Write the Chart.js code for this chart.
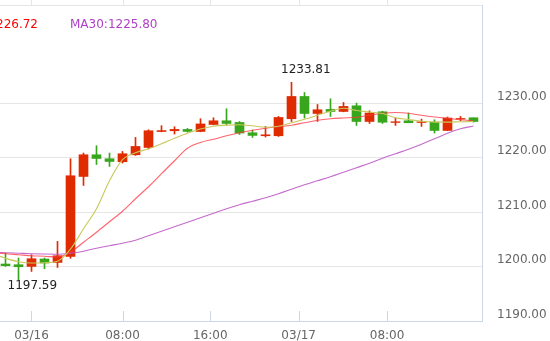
<!DOCTYPE html>
<html><head><meta charset="utf-8">
<script src="https://cdn.jsdelivr.net/npm/chart.js@4/dist/chart.umd.min.js"></script>
<style>html,body{margin:0;padding:0;background:#fff;overflow:hidden}canvas{display:block}</style>
</head><body>
<canvas id="c" width="550" height="341"></canvas>
<script>
// Candle data (one candle per index 0..36)
const openP  = [1200.46,1200.33,1200.02,1201.38,1200.75,1201.85,1216.53,1220.51,1219.78,1219.23,
                1220.51,1221.85,1224.78,1224.92,1225.16,1224.79,1226.07,1226.75,1226.44,1224.55,
                1224.00,1224.00,1227.12,1231.21,1228.09,1228.83,1228.46,1229.50,1226.62,1228.40,
                1226.44,1226.75,1226.44,1226.51,1224.97,1227.06,1227.30];
const highP  = [1202.48,1201.56,1202.17,1201.56,1204.61,1219.78,1220.83,1222.17,1220.83,1221.12,
                1223.69,1225.10,1225.85,1225.65,1225.34,1227.12,1227.30,1228.95,1226.62,1225.05,
                1225.71,1227.54,1233.81,1231.94,1229.74,1230.79,1230.11,1230.00,1228.59,1228.50,
                1227.25,1228.17,1227.06,1226.94,1227.43,1227.54,1227.30];
const lowP   = [1200.02,1197.59,1199.10,1199.60,1199.83,1201.49,1214.88,1218.73,1218.37,1218.99,
                1220.39,1221.56,1224.72,1224.31,1224.68,1224.73,1226.00,1225.96,1224.24,1223.69,
                1223.76,1223.87,1226.62,1227.25,1226.62,1227.54,1228.40,1225.89,1226.26,1226.26,
                1225.89,1226.39,1225.71,1224.50,1224.97,1226.75,1226.51];
const closeP = [1200.15,1199.96,1201.43,1200.64,1201.98,1216.66,1220.51,1219.83,1219.28,1220.70,
                1222.04,1224.92,1224.95,1225.16,1224.79,1226.17,1226.75,1226.26,1224.50,1224.06,
                1224.18,1227.36,1231.21,1228.09,1228.77,1228.46,1229.38,1226.62,1228.17,1226.48,
                1226.57,1226.39,1226.57,1224.97,1227.25,1227.17,1226.62];
// Moving averages, first value belongs to the (hidden) candle just left of the view (index -1)
const ma5  = [1202.35,1201.52,1200.88,1200.64,1200.70,1200.97,1203.20,1206.94,1210.61,1215.74,1219.60,
              1220.88,1221.61,1222.53,1223.54,1224.46,1225.23,1225.74,1225.96,1226.02,1225.83,
              1225.56,1225.74,1226.39,1227.03,1227.76,1228.50,1229.05,1228.64,1228.35,1228.07,
              1227.30,1226.99,1226.66,1226.51,1226.51,1226.57,1226.62];
const ma10 = [1202.62,1202.35,1202.17,1201.98,1201.89,1201.74,1202.62,1204.46,1206.29,1208.22,1210.15,
              1212.44,1214.64,1217.03,1219.41,1221.71,1222.77,1223.36,1224.00,1224.55,1225.01,
              1225.38,1225.65,1225.93,1226.39,1226.84,1227.12,1227.27,1227.39,1227.76,1228.13,
              1228.26,1228.13,1227.76,1227.45,1227.21,1226.94,1226.72];
const ma30 = [1202.59,1202.53,1202.44,1202.35,1202.29,1202.26,1202.44,1202.81,1203.36,1203.82,1204.28,
              1204.83,1205.65,1206.48,1207.30,1208.13,1208.95,1209.78,1210.61,1211.34,1211.98,
              1212.62,1213.36,1214.18,1215.01,1215.74,1216.48,1217.30,1218.13,1218.95,1219.87,
              1220.70,1221.52,1222.44,1223.45,1224.46,1225.28,1225.80];
const xTickPos    = [2, 9, 15.75, 22.55, 29.35];
const xTickLabels = ['03/16', '08:00', '16:00', '03/17', '08:00'];
const yTicks      = [1190, 1200, 1210, 1220, 1230];

const UP = '#e02a00', DOWN = '#38a61c';
const C_MA5 = 'rgba(200,200,90,1)', C_MA10 = 'rgba(255,60,70,0.8)', C_MA30 = 'rgba(190,90,200,0.9)';
const AXIS = '#ccd6eb', GRID = '#e6e6e6', LABEL = '#666666';

Chart.defaults.font.family = "'DejaVu Sans', sans-serif";
Chart.defaults.font.size = 12;

const idx = openP.map((_, i) => i);
const candleColors = idx.map(i => closeP[i] >= openP[i] ? UP : DOWN);
const lineData = arr => arr.map((v, i) => ({x: i - 1, y: v}));

const decor = {
  id: 'decor',
  afterDraw(chart) {
    const {ctx, chartArea: a, scales: {x, y}} = chart;
    ctx.save();
    ctx.lineWidth = 1;
    ctx.strokeStyle = AXIS;
    xTickPos.forEach(v => {
      const px = Math.round(x.getPixelForValue(v)) + 0.5;
      ctx.beginPath(); ctx.moveTo(px, a.bottom - 10); ctx.lineTo(px, a.bottom); ctx.stroke();
    });
    ctx.strokeStyle = GRID;
    ctx.beginPath(); ctx.moveTo(0, a.top + 0.5); ctx.lineTo(a.right, a.top + 0.5); ctx.stroke();
    xTickPos.forEach(v => {
      const px = Math.round(x.getPixelForValue(v)) + 0.5;
      ctx.beginPath(); ctx.moveTo(px, 0); ctx.lineTo(px, a.top); ctx.stroke();
    });
    ctx.font = "12px 'DejaVu Sans', sans-serif";
    ctx.textBaseline = 'middle';
    ctx.textAlign = 'right';
    ctx.fillStyle = '#ff0000';
    ctx.fillText('MA10:' + ma10[ma10.length - 1].toFixed(2), 38, 25);
    ctx.textAlign = 'left';
    ctx.fillStyle = '#b040c8';
    ctx.fillText('MA30:' + ma30[ma30.length - 1].toFixed(2), 70, 25);
    let hi = 0, lo = 0;
    idx.forEach(i => { if (highP[i] > highP[hi]) hi = i; if (lowP[i] < lowP[lo]) lo = i; });
    ctx.fillStyle = '#222222';
    ctx.fillText(highP[hi].toFixed(2), x.getPixelForValue(hi) - 10.5, y.getPixelForValue(highP[hi]) - 12.5);
    ctx.fillText(lowP[lo].toFixed(2), x.getPixelForValue(lo) - 11, y.getPixelForValue(lowP[lo]) + 6.5);
    ctx.restore();
  }
};

new Chart(document.getElementById('c'), {
  type: 'bar',
  data: {
    datasets: [
      {type: 'line', data: lineData(ma5), borderColor: C_MA5, borderWidth: 1.1, pointRadius: 0, cubicInterpolationMode: 'monotone', order: 0},
      {type: 'line', data: lineData(ma10), borderColor: C_MA10, borderWidth: 1.1, pointRadius: 0, cubicInterpolationMode: 'monotone', order: 0},
      {type: 'line', data: lineData(ma30), borderColor: C_MA30, borderWidth: 1.1, pointRadius: 0, cubicInterpolationMode: 'monotone', order: 0},
      {type: 'bar', data: idx.map(i => ({x: i, y: [openP[i], closeP[i]]})), backgroundColor: candleColors, barThickness: 9, grouped: false, order: 2},
      {type: 'bar', data: idx.map(i => ({x: i, y: [lowP[i], highP[i]]})), backgroundColor: candleColors, barThickness: 1, grouped: false, order: 3}
    ]
  },
  options: {
    responsive: false,
    animation: false,
    layout: {padding: {top: 5, left: 0, right: 0, bottom: 0}},
    plugins: {legend: {display: false}, tooltip: {enabled: false}},
    scales: {
      x: {
        type: 'linear', position: 'bottom', offset: false,
        min: -5.5 / 13, max: -5.5 / 13 + 482 / 13,
        afterBuildTicks: s => { s.ticks = xTickPos.map(v => ({value: v})); },
        afterFit: s => { s.height = 20; s.paddingLeft = 0; s.paddingRight = 0; },
        ticks: {autoSkip: false, maxRotation: 0, padding: 8, color: LABEL, callback: (v, i) => xTickLabels[i]},
        grid: {display: false, drawTicks: false, offset: false},
        border: {display: true, color: AXIS}
      },
      y: {
        type: 'linear', position: 'right', min: 1190, max: 1248,
        afterBuildTicks: s => { s.ticks = yTicks.map(v => ({value: v})); },
        afterFit: s => { s.width = 68; s.paddingTop = 0; s.paddingBottom = 0; },
        ticks: {padding: 15, color: LABEL, labelOffset: -6.5, crossAlign: 'near', callback: v => v.toFixed(2)},
        grid: {color: GRID, drawTicks: false},
        border: {display: true, color: AXIS}
      }
    }
  },
  plugins: [decor]
});
</script>
</body></html>
